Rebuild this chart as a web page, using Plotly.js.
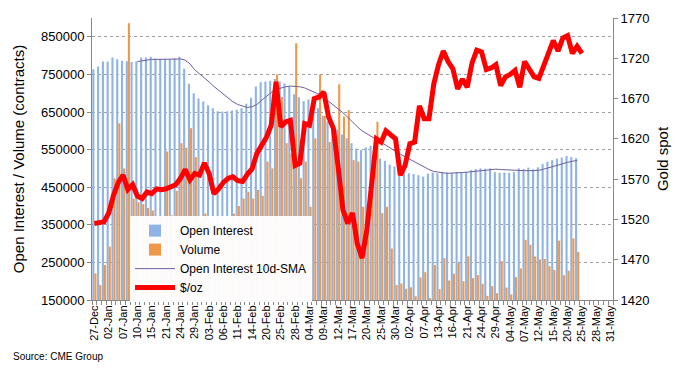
<!DOCTYPE html>
<html>
<head>
<meta charset="utf-8">
<script src="https://cdn.plot.ly/plotly-3.0.1.min.js"></script>
<style>
  html, body { margin: 0; padding: 0; background: #ffffff; }
  #chart { width: 680px; height: 370px; }
</style>
</head>
<body>
<div id="chart"></div>
<script>
// ---- category axis (trading days) ----
const dates = ['27-Dec','30-Dec','31-Dec',
  '02-Jan','03-Jan','06-Jan','07-Jan','08-Jan','09-Jan','10-Jan','13-Jan','14-Jan','15-Jan','16-Jan','17-Jan','21-Jan','22-Jan','23-Jan','24-Jan','27-Jan','28-Jan','29-Jan','30-Jan','31-Jan',
  '03-Feb','04-Feb','05-Feb','06-Feb','07-Feb','10-Feb','11-Feb','12-Feb','13-Feb','14-Feb','18-Feb','19-Feb','20-Feb','21-Feb','24-Feb','25-Feb','26-Feb','27-Feb','28-Feb',
  '02-Mar','03-Mar','04-Mar','05-Mar','06-Mar','09-Mar','10-Mar','11-Mar','12-Mar','13-Mar','16-Mar','17-Mar','18-Mar','19-Mar','20-Mar','23-Mar','24-Mar','25-Mar','26-Mar','27-Mar','30-Mar','31-Mar',
  '01-Apr','02-Apr','03-Apr','06-Apr','07-Apr','08-Apr','09-Apr','13-Apr','14-Apr','15-Apr','16-Apr','17-Apr','20-Apr','21-Apr','22-Apr','23-Apr','24-Apr','27-Apr','28-Apr','29-Apr','30-Apr',
  '01-May','04-May','05-May','06-May','07-May','08-May','11-May','12-May','13-May','14-May','15-May','18-May','19-May','20-May','21-May','22-May','25-May','26-May','27-May','28-May','29-May','30-May','31-May'];

// ---- series (thousands of contracts for OI / volume) ----
const openInterestK = [764,771,784,784,795,790,786,785,783,785,
  795,795,797,792,791,791,791,792,797,765,
  725,700,686,678,668,660,652,651,652,654,
  656,660,672,688,718,729,731,733,738,731,
  726,719,697,689,679,683,680,660,640,625,
  615,603,590,580,567,553,549,556,560,542,
  526,520,510,505,497,490,487,485,482,478,
  486,489,487,490,489,488,490,489,491,495,
  498,500,499,500,490,488,489,488,490,500,
  498,502,497,503,512,518,522,526,529,533,
  530,527];

const volumeK = [221,190,243,292,474,620,500,886,420,410,
  405,395,388,368,370,545,375,440,567,555,
  607,530,363,380,363,330,350,340,360,380,
  400,420,438,420,443,427,518,500,750,690,
  567,540,833,474,518,398,580,750,640,570,
  600,724,638,655,522,518,398,363,465,624,
  381,398,287,190,194,180,184,160,210,224,
  155,243,179,261,202,220,249,200,266,208,
  216,193,161,187,168,253,183,165,211,234,
  310,297,266,258,259,240,230,308,216,228,
  314,278];

const smaK = [null,null,null,null,null,null,null,null,null,784,
  786,789,790,790,790,791,791,792,791,788,
  778,762,752,742,730,718,708,697,686,677,
  670,665,662,664,670,681,692,702,710,714,
  717,719,719,717,714,709,703,697,689,679,
  670,660,648,636,623,611,600,592,585,577,
  569,561,553,545,538,531,524,517,510,503,
  497,492,489,488,487,487,488,489,490,491,
  493,495,496,497,498,497,496,495,494,494,
  494,494,494,495,498,502,506,510,513,516,
  519,521];

const goldSpot = [1515,1516,1517,1528,1550,1566,1575,1557,1563,1549,
  1546,1554,1552,1558,1557,1558,1560,1563,1571,1582,
  1569,1577,1575,1590,1577,1552,1558,1566,1571,1573,
  1568,1567,1576,1583,1602,1613,1622,1637,1691,1635,
  1641,1643,1587,1590,1639,1637,1670,1672,1678,1647,
  1633,1585,1532,1515,1528,1490,1472,1507,1561,1620,
  1616,1630,1625,1620,1575,1587,1614,1616,1661,1645,
  1645,1688,1712,1729,1716,1707,1682,1694,1684,1714,
  1730,1728,1706,1708,1712,1686,1697,1700,1705,1684,
  1716,1705,1697,1695,1710,1726,1742,1729,1745,1748,
  1726,1735,1726];

const leftTicks = [150000,250000,350000,450000,550000,650000,750000,850000];
const tickLabels = dates.map((d, i) => (i % 3 === 0 ? d : ''));

const k = v => (v === null ? null : v * 1000);

const traces = [
  {
    type: 'bar', name: 'Open Interest',
    x: dates.slice(0, openInterestK.length), y: openInterestK.map(k),
    marker: { color: '#8fb3e5', line: { width: 0 } },
    yaxis: 'y'
  },
  {
    type: 'bar', name: 'Volume',
    x: dates.slice(0, volumeK.length), y: volumeK.map(k),
    marker: { color: '#f0984a', line: { width: 0 } },
    yaxis: 'y'
  },
  {
    type: 'scatter', mode: 'lines', name: 'Open Interest 10d-SMA',
    x: dates.slice(0, smaK.length), y: smaK.map(k),
    line: { color: '#6f5f9e', width: 1 },
    connectgaps: false,
    yaxis: 'y'
  },
  {
    type: 'scatter', mode: 'lines', name: '$/oz',
    x: dates.slice(0, goldSpot.length), y: goldSpot,
    line: { color: '#ff0000', width: 5 },
    yaxis: 'y2'
  }
];

const fontFam = '"Liberation Sans", Arial, Helvetica, sans-serif';

const layout = {
  width: 680, height: 370,
  margin: { l: 92, r: 67, t: 18, b: 70, pad: 0 },
  paper_bgcolor: '#ffffff', plot_bgcolor: '#ffffff',
  font: { family: fontFam, color: '#000000', size: 12 },
  barmode: 'group', bargap: 0.12, bargroupgap: 0,
  showlegend: true,
  legend: {
    x: 0.073, xanchor: 'left', y: 0.145, yanchor: 'middle',
    bgcolor: 'rgba(255,255,255,0.95)', borderwidth: 0,
    itemwidth: 40,
    font: { size: 12, family: fontFam }, traceorder: 'normal'
  },
  xaxis: {
    type: 'category', categoryorder: 'array', categoryarray: dates,
    tickmode: 'array', tickvals: dates, ticktext: tickLabels,
    tickangle: -90, tickfont: { size: 11, family: fontFam },
    ticks: 'outside', ticklen: 4, tickcolor: '#888888', tickson: 'boundaries',
    showline: true, linecolor: '#888888', linewidth: 1,
    showgrid: false, zeroline: false, range: [-0.5, 108.5], automargin: false
  },
  yaxis: {
    range: [150000, 900000], tickmode: 'array', tickvals: leftTicks, tickformat: 'd',
    tickfont: { size: 13, family: fontFam },
    ticks: 'outside', ticklen: 4, tickcolor: '#888888',
    showline: true, linecolor: '#888888', linewidth: 1,
    showgrid: true, gridcolor: '#a0a0a0', griddash: 'dot', gridwidth: 1,
    zeroline: false, automargin: false,
    title: { text: 'Open Interest / Volume (contracts)', font: { size: 15, family: fontFam }, standoff: 12 }
  },
  yaxis2: {
    overlaying: 'y', side: 'right',
    range: [1420, 1770], tick0: 1420, dtick: 50,
    tickfont: { size: 13, family: fontFam },
    ticks: 'outside', ticklen: 4, tickcolor: '#888888',
    showline: true, linecolor: '#888888', linewidth: 1,
    showgrid: false, zeroline: false, automargin: false,
    title: { text: 'Gold spot', font: { size: 15, family: fontFam }, standoff: 8 }
  },
  annotations: [
    {
      text: 'Source: CME Group', xref: 'paper', yref: 'paper',
      x: -0.155, y: -0.199, xanchor: 'left', yanchor: 'middle',
      showarrow: false, font: { size: 10, family: fontFam, color: '#000000' }
    }
  ]
};

Plotly.newPlot('chart', traces, layout, { displayModeBar: false, staticPlot: true });
</script>
</body>
</html>
